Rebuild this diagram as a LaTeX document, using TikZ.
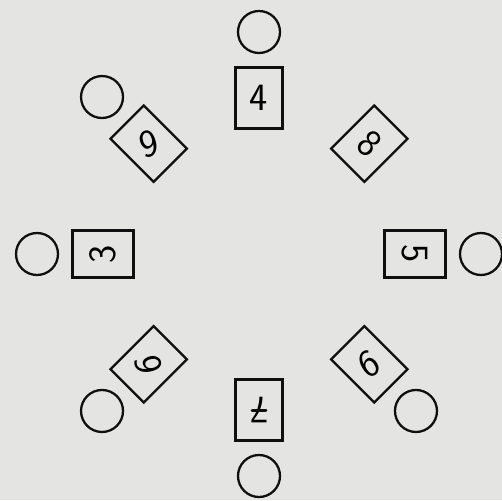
\documentclass[tikz,border=0pt]{standalone}
\usepackage{tikz}
\usetikzlibrary{shapes,positioning,calc}
\usepackage{xcolor}
\definecolor{paper}{RGB}{228,228,226}
\definecolor{ink}{RGB}{15,15,15}

\begin{document}
\begin{tikzpicture}[
    x=0.02cm, y=0.02cm,
    card/.style={rectangle, draw=ink, line width=1.3pt, minimum width=0.94cm,
                 minimum height=1.22cm, inner sep=0pt,
                 font=\sffamily\fontsize{22}{26}\selectfont},
    seat/.style={circle, draw=ink, line width=1.3pt, minimum size=0.84cm, inner sep=0pt},
    stroke/.style={ink, line width=1.7pt, line cap=round}
]

% Paper
\fill[paper] (-259,-246) rectangle (243,254);
\useasboundingbox (-259,-246) rectangle (243,254);

% Cards round the table
\node[card, rotate=0]    (k4)  at (90:156)   {4};
\node[card, rotate=-45]  (k8)  at (45:156)   {\rotatebox[origin=c]{5}{8}};
\node[card, rotate=-90]  (k5)  at (0:156)    {5};
\node[card, rotate=-135] (k9b) at (-45:156)  {\rotatebox[origin=c]{-15}{9}};
\node[card, rotate=180]  (k7)  at (-90:156)  {7};
\node[card, rotate=135]  (k6)  at (-135:156) {\rotatebox[origin=c]{-35}{6}};
\node[card, rotate=90]   (k3)  at (180:156)  {3};
\node[card, rotate=45]   (k9a) at (135:156)  {\rotatebox[origin=c]{-30}{9}};

% crossbar of the 7
\draw[stroke] ($(k7.center)+(-7,0)$) -- ($(k7.center)+(7,0)$);

% Seats (none behind the 8)
\node[seat] (s4)  at (90:222)   {};
\node[seat] (s5)  at (0:222)    {};
\node[seat] (s9b) at (-45:222)  {};
\node[seat] (s7)  at (-90:222)  {};
\node[seat] (s6)  at (-135:222) {};
\node[seat] (s3)  at (180:222)  {};
\node[seat] (s9a) at (135:222)  {};

\end{tikzpicture}
\end{document}
